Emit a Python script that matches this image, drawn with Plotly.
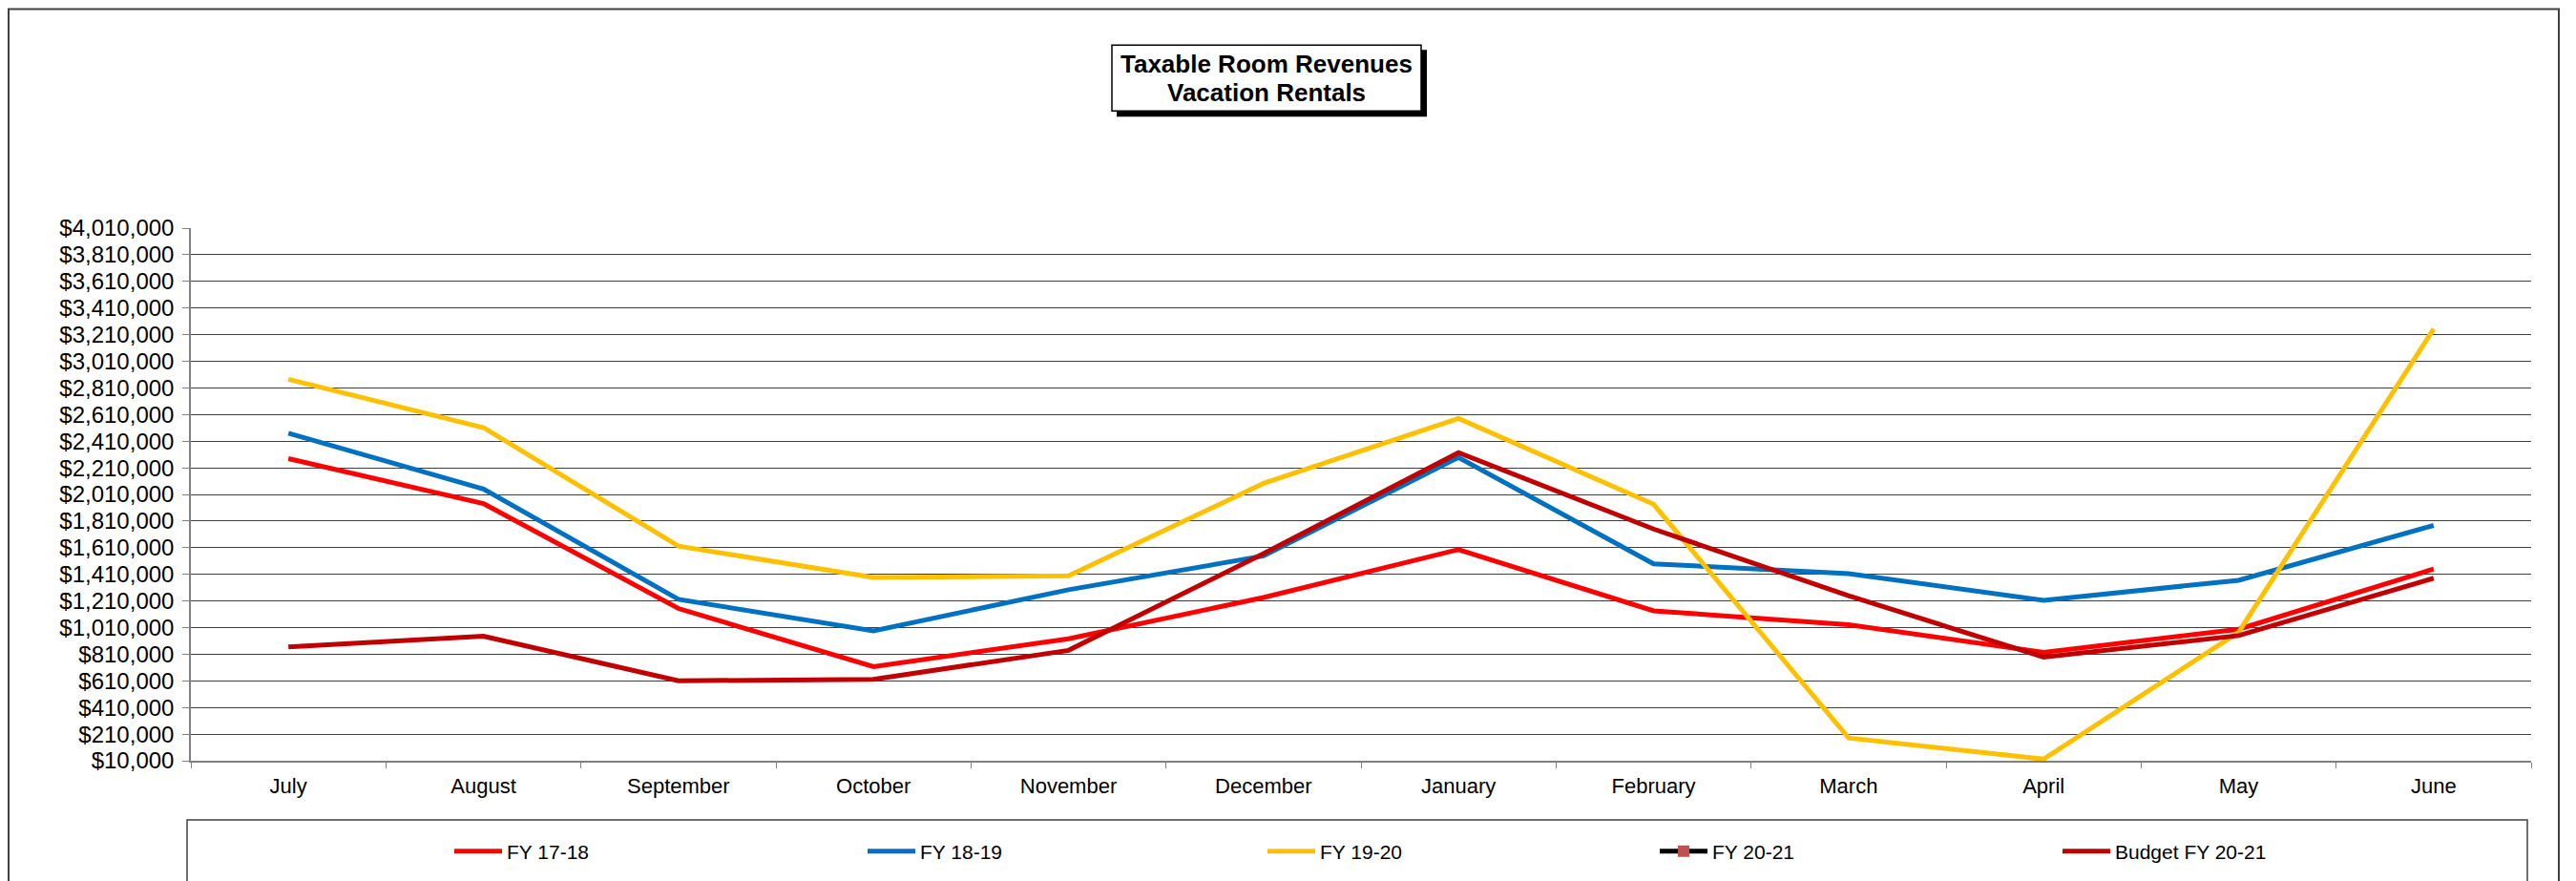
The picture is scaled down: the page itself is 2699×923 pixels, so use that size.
import plotly.graph_objects as go

# monthly taxable room revenues, vacation rentals
months = ["July", "August", "September", "October", "November", "December",
          "January", "February", "March", "April", "May", "June"]

fy_17_18 = [2279000, 1941000, 1153000, 717000, 926000, 1236000,
            1596000, 1136000, 1031000, 824000, 998000, 1450000]
fy_18_19 = [2470000, 2051000, 1222000, 986000, 1294000, 1548000,
            2288000, 1489000, 1415000, 1215000, 1365000, 1777000]
fy_19_20 = [2875000, 2512000, 1622000, 1386000, 1398000, 2093000,
            2581000, 1936000, 181000, 22000, 975000, 3253000]
fy_20_21 = [None] * 12
budget_20_21 = [865000, 945000, 610000, 622000, 839000, 1565000,
                2324000, 1750000, 1250000, 788000, 950000, 1381000]

y_ticks = list(range(10000, 4010001, 200000))

# page has an 8px body margin, so the figure is drawn 8px in from the corner
OFF = 8
W, H = 2699 - OFF, 923 - OFF
L, R, T, B = 200, 2652, 239, 798   # plot area in page pixels


def px(x, y):
    """page pixel position -> paper coords"""
    return (x - L) / (R - L), (B - y) / (B - T)


FONT = "Liberation Sans, Arial, sans-serif"
LEG_FONT = dict(family="Liberation Sans Narrow, Arial Narrow, " + FONT, size=21, color="black")

fig = go.Figure()

# name, values, colour, legend id
series = [
    ("FY 17-18", fy_17_18, "#FF0000", "legend"),
    ("FY 18-19", fy_18_19, "#0070C0", "legend2"),
    ("FY 19-20", fy_19_20, "#FFC000", "legend3"),
]
for name, vals, col, leg in series:
    fig.add_trace(go.Scatter(x=months, y=vals, mode="lines", name=name, legend=leg,
                             line=dict(color=col, width=5)))

fig.add_trace(go.Scatter(
    x=months, y=fy_20_21, mode="lines+markers", name="FY 20-21", legend="legend4",
    line=dict(color="black", width=5),
    marker=dict(symbol="square", size=12, color="#C0504D"),
))
fig.add_trace(go.Scatter(x=months, y=budget_20_21, mode="lines",
                         name="Budget FY 20-21", legend="legend5",
                         line=dict(color="#C00000", width=5)))

legend_left = [471, 904, 1323, 1734, 2156]

# frame, legend box, title box
x0, y0 = px(9, 9)
x1, y1 = px(2681, 935)
shapes = [dict(type="rect", xref="paper", yref="paper", x0=x0, y0=y0, x1=x1, y1=y1,
               line=dict(color="#404040", width=2), layer="below")]
x0, y0 = px(196, 860)
x1, y1 = px(2648, 935)
shapes.append(dict(type="rect", xref="paper", yref="paper", x0=x0, y0=y0, x1=x1, y1=y1,
                   line=dict(color="#404040", width=1.5), layer="below"))
x0, y0 = px(1170, 52)
x1, y1 = px(1495, 122)
shapes.append(dict(type="rect", xref="paper", yref="paper", x0=x0, y0=y0, x1=x1, y1=y1,
                   line=dict(width=0), fillcolor="black"))
x0, y0 = px(1165, 47)
x1, y1 = px(1489, 116)
shapes.append(dict(type="rect", xref="paper", yref="paper", x0=x0, y0=y0, x1=x1, y1=y1,
                   line=dict(color="black", width=1.5), fillcolor="white"))

annotations = []
for text, ty in [("Taxable Room Revenues", 67), ("Vacation Rentals", 97)]:
    ax, ay = px(1327, ty)
    annotations.append(dict(xref="paper", yref="paper", x=ax, y=ay, text="<b>%s</b>" % text,
                            showarrow=False, xanchor="center", yanchor="middle",
                            font=dict(family=FONT, size=26, color="black")))

legends = {}
for i, lpx in enumerate(legend_left):
    key = "legend" if i == 0 else "legend%d" % (i + 1)
    lx, ly = px(lpx, 892)
    legends[key] = dict(orientation="h", x=lx, y=ly, xanchor="left", yanchor="middle",
                        itemwidth=50, bgcolor="rgba(0,0,0,0)", borderwidth=0,
                        font=LEG_FONT)

fig.update_layout(
    width=W, height=H,
    margin=dict(l=L - OFF, r=2699 - R, t=T - OFF, b=923 - B, pad=0),
    paper_bgcolor="white", plot_bgcolor="white",
    font=dict(family=FONT, size=22, color="black"),
    showlegend=True,
    shapes=shapes,
    annotations=annotations,
    xaxis=dict(type="category", showgrid=False, showline=True, linecolor="#808080",
               linewidth=1.5, ticks="outside", tickson="boundaries", ticklen=6,
               tickcolor="#808080", tickfont=dict(size=22), range=[-0.5, 11.5],
               ticklabelstandoff=6, fixedrange=True),
    yaxis=dict(range=[10000, 4010000], tickvals=y_ticks, tickformat="$,.0f",
               showgrid=True, gridcolor="#404040", gridwidth=1, zeroline=False,
               showline=True, linecolor="#808080", linewidth=1.5,
               ticks="outside", ticklen=7, tickcolor="#808080",
               ticklabelstandoff=4,
               tickfont=dict(size=24), fixedrange=True),
    **legends,
)

fig.write_html("out.html")
